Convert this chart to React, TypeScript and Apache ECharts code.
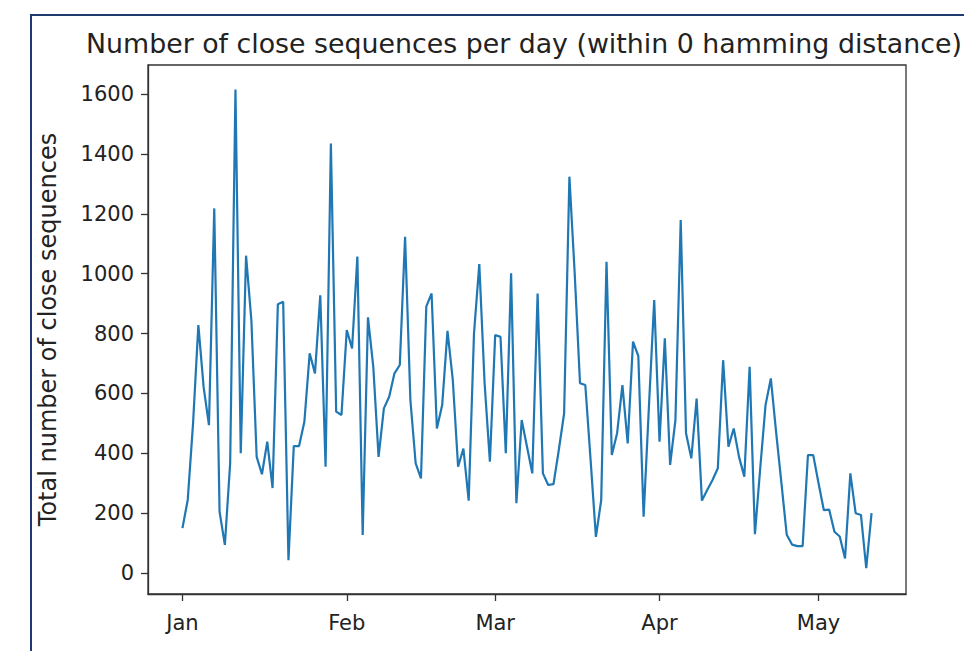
import React, { useEffect, useRef } from "react";
import * as echarts from "echarts";

// Day index 0 = Jan 1, one value per day through May 11
const counts: number[] = [
  150, 245, 500, 828, 620, 494, 1218, 205, 94, 367,
  1615, 400, 1060, 845, 388, 330, 439, 284, 898, 906,
  43, 424, 424, 505, 734, 667, 928, 355, 1435, 539,
  528, 812, 750, 1057, 127, 854, 689, 388, 550, 589,
  667, 695, 1123, 578, 366, 316, 890, 934, 483, 561,
  809, 645, 355, 416, 242, 800, 1032, 634, 372, 795,
  789, 400, 1001, 233, 511, 422, 333, 934, 333, 294,
  297, 411, 533, 1324, 1000, 634, 628, 377, 121, 244,
  1040, 394, 467, 628, 433, 773, 725, 188, 555, 912,
  439, 784, 361, 511, 1179, 467, 383, 583, 242, 277,
  311, 350, 711, 422, 483, 388, 322, 689, 130, 350,
  561, 650, 470, 300, 128, 95, 90, 90, 394, 394,
  300, 210, 212, 138, 122, 49, 333, 200, 194, 16,
  200,
];

const monthLabels: string[] = ["Jan", "Feb", "Mar", "Apr", "May"];
const monthStartDay: number[] = [0, 31, 59, 90, 120];
const yTicks: number[] = [0, 200, 400, 600, 800, 1000, 1200, 1400, 1600];

const TITLE = "Number of close sequences per day (within 0 hamming distance)";
const Y_NAME = "Total number of close sequences";

export default function App() {
  const ref = useRef<HTMLDivElement>(null);
  useEffect(() => {
    if (!ref.current) return;
    const chart = echarts.init(ref.current, undefined, { renderer: "svg" });
    const font = "DejaVu Sans";
    const seriesData = counts.map((v, i) => [i, v]);
    const n = counts.length - 1;
    const axisColor = "#333";
    chart.setOption({
      animation: false,
      backgroundColor: "#ffffff",
      title: {
        text: TITLE,
        left: 81,
        top: 25,
        textStyle: { fontFamily: font, fontSize: 26.8, fontWeight: "normal", color: "#222" },
      },
      grid: {
        left: 148,
        right: 58,
        top: 65,
        bottom: 57,
        show: true,
        borderColor: axisColor,
        borderWidth: 1.3,
        backgroundColor: "transparent",
      },
      xAxis: {
        type: "value",
        min: -0.05 * n,
        max: n * 1.05,
        axisLine: { show: true, onZero: false, lineStyle: { color: axisColor, width: 1.3 } },
        splitLine: { show: false },
        axisTick: {
          show: true,
          inside: false,
          length: 7,
          customValues: monthStartDay,
          lineStyle: { color: axisColor, width: 1.3 },
        },
        axisLabel: {
          customValues: monthStartDay,
          formatter: (v: number) => monthLabels[monthStartDay.indexOf(Math.round(v))] ?? "",
          margin: 18,
          fontFamily: font,
          fontSize: 21,
          color: "#222",
        },
      },
      yAxis: {
        type: "value",
        min: -70,
        max: 1697,
        name: Y_NAME,
        nameLocation: "middle",
        nameGap: 88,
        nameTextStyle: { fontFamily: font, fontSize: 24, color: "#222" },
        axisLine: { show: true, onZero: false, lineStyle: { color: axisColor, width: 1.3 } },
        splitLine: { show: false },
        axisTick: {
          show: true,
          inside: false,
          length: 7,
          customValues: yTicks,
          lineStyle: { color: axisColor, width: 1.3 },
        },
        axisLabel: {
          customValues: yTicks,
          formatter: (v: number) => String(v),
          margin: 14,
          fontFamily: font,
          fontSize: 21,
          color: "#222",
        },
      },
      series: [
        {
          type: "line",
          data: seriesData,
          showSymbol: false,
          lineStyle: { color: "#1f77b4", width: 2.2 },
          clip: false,
        },
      ],
      graphic: [
        {
          type: "rect",
          shape: { x: 31, y: 15, width: 1000, height: 700 },
          style: { fill: "none", stroke: "#1f3a70", lineWidth: 2 },
          silent: true,
        },
      ],
    });
    return () => chart.dispose();
  }, []);
  return (
    <div
      ref={ref}
      style={{ position: "absolute", left: 0, top: 0, width: 964, height: 651 }}
    />
  );
}
